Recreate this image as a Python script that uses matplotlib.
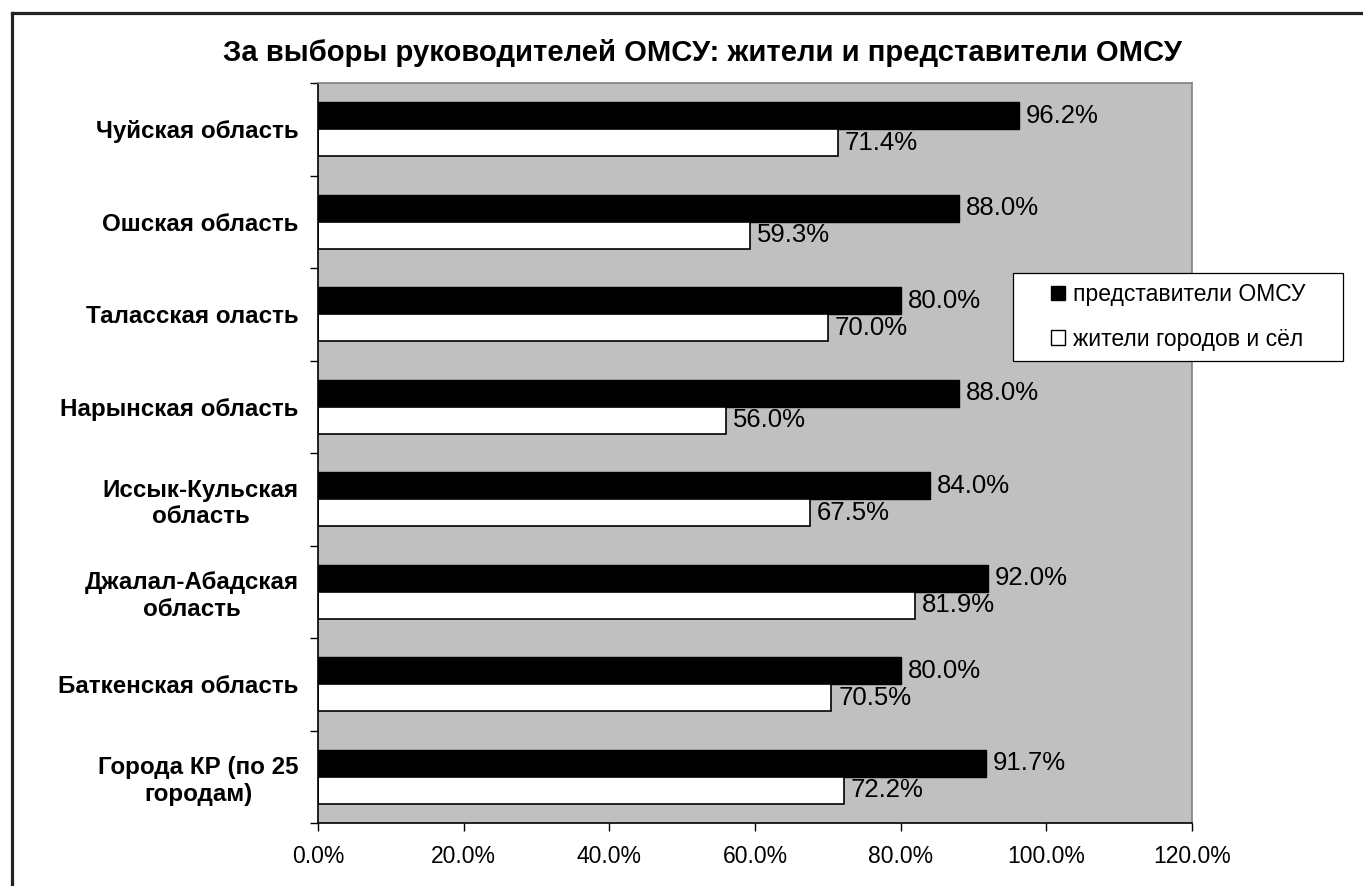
import matplotlib
matplotlib.use("Agg")
import matplotlib.pyplot as plt
import numpy as np
from matplotlib.patches import Rectangle, Patch
from matplotlib.lines import Line2D
from matplotlib.ticker import FuncFormatter, FixedLocator

plt.rcParams['font.family'] = ['Liberation Sans', 'DejaVu Sans']

categories = [
    "Чуйская область",
    "Ошская область",
    "Таласская оласть",
    "Нарынская область",
    "Иссык-Кульская\nобласть",
    "Джалал-Абадская\nобласть",
    "Баткенская область",
    "Города КР (по 25\nгородам)",
]
omsu = [96.2, 88.0, 80.0, 88.0, 84.0, 92.0, 80.0, 91.7]
residents = [71.4, 59.3, 70.0, 56.0, 67.5, 81.9, 70.5, 72.2]
series_names = ["представители ОМСУ", "жители городов и сёл"]
title = "За выборы руководителей ОМСУ: жители и представители ОМСУ"
xticks = [0, 20, 40, 60, 80, 100, 120]

W, H = 1363, 886
fig = plt.figure(figsize=(W / 100, H / 100), dpi=100)
fig.patch.set_facecolor('white')

ax = fig.add_axes([318 / W, 1 - 823 / H, 874 / W, 740 / H])
ax.set_facecolor('#C0C0C0')

y = np.arange(len(categories))
bh = 0.29
ax.barh(y - bh / 2, omsu, height=bh, color='black', edgecolor='black', linewidth=1.0)
ax.barh(y + bh / 2, residents, height=bh, color='white', edgecolor='black', linewidth=1.2)

for yi, v in zip(y - bh / 2, omsu):
    ax.annotate(f"{v:.1f}%", (v, yi), xytext=(5, 0), textcoords='offset points',
                va='center', ha='left', fontsize=18.5)
for yi, v in zip(y + bh / 2, residents):
    ax.annotate(f"{v:.1f}%", (v, yi), xytext=(5, 0), textcoords='offset points',
                va='center', ha='left', fontsize=18.5)

ax.set_xlim(0, 120)
ax.set_ylim(len(categories) - 0.5, -0.5)
ax.set_xticks(xticks)
ax.xaxis.set_major_formatter(FuncFormatter(lambda v, p: f"{v:.1f}%"))
ax.tick_params(axis='x', direction='out', length=6, width=1, labelsize=16.5, pad=10)

# y: major ticks at boundaries (marks only), minor at centers (labels only)
ax.yaxis.set_major_locator(FixedLocator(np.arange(-0.5, len(categories) + 0.5, 1)))
ax.yaxis.set_major_formatter(FuncFormatter(lambda v, p: ""))
ax.yaxis.set_minor_locator(FixedLocator(y))
ax.set_yticklabels(categories, minor=True, fontsize=17.4, fontweight='bold',
                   multialignment='center')
ax.tick_params(axis='y', which='major', direction='out', length=6, width=1)
ax.tick_params(axis='y', which='minor', length=0, pad=14)

for side in ['left', 'bottom']:
    ax.spines[side].set_color('black')
    ax.spines[side].set_linewidth(1.2)
for side in ['top', 'right']:
    ax.spines[side].set_color('#808080')
    ax.spines[side].set_linewidth(1.2)

fig.text(702 / W, 1 - 53 / H, title, ha='center', va='center',
         fontsize=21.1, fontweight='bold')

# legend
lx0, ly0, lx1, ly1 = 1013, 273, 1343, 361
fig.patches.append(Rectangle((lx0 / W, 1 - ly1 / H), (lx1 - lx0) / W, (ly1 - ly0) / H,
                             transform=fig.transFigure, facecolor='white',
                             edgecolor='black', linewidth=0.9, zorder=5))
handles = [Patch(facecolor='black', edgecolor='black', linewidth=1),
           Patch(facecolor='white', edgecolor='black', linewidth=1)]
leg = fig.legend(handles, series_names, loc='center',
                 bbox_to_anchor=((lx0 + lx1) / 2 / W, 1 - (ly0 + ly1) / 2 / H),
                 frameon=False, fontsize=16.5, handlelength=0.62, handleheight=0.62,
                 handletextpad=0.35, labelspacing=0.95)
leg.set_zorder(6)

# outer chart border (top and left)
fig.add_artist(Line2D([12 / W, 12 / W], [1 - 13 / H, 0], transform=fig.transFigure,
                      color='#222222', linewidth=2.3))
fig.add_artist(Line2D([12 / W, 1], [1 - 13 / H, 1 - 13 / H], transform=fig.transFigure,
                      color='#222222', linewidth=2.3))

fig.savefig('out.png', dpi=100)
